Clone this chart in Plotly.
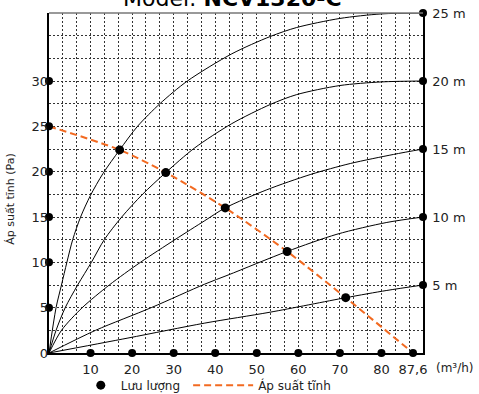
import plotly.graph_objects as go

# x = luu luong (m3/h), y = ap suat tinh (Pa)
x_ticks = [10, 20, 30, 40, 50, 60, 70, 80, 87.6]
x_tick_text = ['10', '20', '30', '40', '50', '60', '70', '80', '87,6']
y_ticks = [0, 5, 10, 15, 20, 25, 30]
head_ticks = [7.5, 15, 22.5, 30, 37.5]
head_text = ['5 m', '10 m', '15 m', '20 m', '25 m']

# system curves
c25_x = [0, 1.7, 3.0, 4.3, 5.7, 7.6, 10, 13, 17, 21.3, 26.7, 33.3, 44, 53.2, 59.6, 70, 80, 90]
c25_y = [0, 5, 7.5, 10, 12.5, 15, 17.4, 19.8, 22.4, 25, 27.5, 30, 33, 34.9, 35.9, 36.9, 37.4, 37.5]
c20_x = [0, 1.7, 3.9, 6.9, 10.2, 13.3, 17.5, 22.5, 28.1, 35, 44, 53.2, 59.6, 70, 80, 90]
c20_y = [0, 2.5, 5, 7.5, 10, 12.5, 15, 17.5, 19.9, 22.6, 25.3, 27.4, 28.5, 29.5, 29.9, 30]
c15_x = [0, 3.0, 8.0, 14.5, 22, 30.3, 37.5, 42.4, 52.4, 63, 72.5, 82.9, 90]
c15_y = [0, 2.5, 5, 7.5, 10, 12.5, 14.6, 16, 18, 19.7, 20.9, 21.9, 22.5]
c10_x = [0, 11.2, 24.6, 37.5, 43.1, 57.3, 69.3, 81.3, 90]
c10_y = [0, 2.5, 5, 7.6, 8.6, 11.2, 13.1, 14.4, 15]
c5_x = [0, 19, 37.5, 53.2, 71.4, 81.3, 90]
c5_y = [0, 1.65, 3.3, 4.5, 6.1, 6.9, 7.5]

# static pressure line and operating points
p_x = [0, 17, 28.1, 42.4, 57.3, 71.4, 87.6]
p_y = [25, 22.4, 19.9, 16, 11.2, 6.1, 0]
op_x = [17, 28.1, 42.4, 57.3, 71.4]
op_y = [22.4, 19.9, 16, 11.2, 6.1]

font = 'DejaVu Sans'
grid_dash = '2px,2px'

fig = go.Figure()

for cx, cy in [(c25_x, c25_y), (c20_x, c20_y), (c15_x, c15_y), (c10_x, c10_y), (c5_x, c5_y)]:
    fig.add_trace(go.Scatter(x=cx, y=cy, mode='lines', line=dict(color='black', width=1, shape='spline', smoothing=0.8),
                             showlegend=False, hoverinfo='skip'))

fig.add_trace(go.Scatter(x=p_x, y=p_y, mode='lines', name='Áp suất tĩnh', legend='legend2',
                         line=dict(color='#F26A21', width=2, dash='7px,4px', shape='spline', smoothing=0.8)))

fig.add_trace(go.Scatter(x=op_x, y=op_y, mode='markers', name='Lưu lượng', legend='legend',
                         marker=dict(color='black', size=9)))

# dots sitting on the axis lines (each trace also keeps its label axis alive)
fig.add_trace(go.Scatter(x=[0] * (len(y_ticks) - 1), y=y_ticks[1:], mode='markers', cliponaxis=False,
                         marker=dict(color='black', size=8), showlegend=False, hoverinfo='skip', yaxis='y2'))
fig.add_trace(go.Scatter(x=x_ticks, y=[0] * len(x_ticks), mode='markers', cliponaxis=False,
                         marker=dict(color='black', size=8), showlegend=False, hoverinfo='skip', xaxis='x2'))
fig.add_trace(go.Scatter(x=[90] * len(head_ticks), y=head_ticks, mode='markers', cliponaxis=False,
                         marker=dict(color='black', size=8), showlegend=False, hoverinfo='skip', yaxis='y3'))

fig.update_layout(
    width=479, height=394,
    margin=dict(l=49, r=56, t=13, b=41, autoexpand=False),
    paper_bgcolor='white', plot_bgcolor='white',
    font=dict(family=font, size=13, color='#222'),
    xaxis=dict(range=[0, 90], tickmode='linear', tick0=0, dtick=10 / 3, showticklabels=False, ticks='',
               showgrid=True, gridcolor='#333', gridwidth=1, griddash=grid_dash, zeroline=False,
               showline=True, linecolor='black', linewidth=1.5, automargin=False),
    xaxis2=dict(range=[0, 90], overlaying='x', side='bottom', anchor='y', tickmode='array', tickvals=x_ticks,
                ticktext=x_tick_text, showgrid=False, zeroline=False, showline=False, automargin=False,
                ticks='outside', ticklen=4, tickcolor='rgba(0,0,0,0)', tickfont=dict(size=13)),
    yaxis=dict(range=[0, 37.5], tickmode='linear', tick0=0, dtick=2.5, showticklabels=False, ticks='',
               showgrid=True, gridcolor='#333', gridwidth=1, griddash=grid_dash, zeroline=False,
               showline=True, linecolor='black', linewidth=1.5, automargin=False),
    yaxis2=dict(range=[0, 37.5], overlaying='y', side='left', anchor='x', tickmode='array', tickvals=y_ticks,
                showgrid=False, zeroline=False, showline=False, automargin=False,
                ticks='', tickfont=dict(size=13)),
    yaxis3=dict(range=[0, 37.5], overlaying='y', side='right', anchor='x', tickmode='array', tickvals=head_ticks,
                ticktext=head_text, showgrid=False, zeroline=False, showline=True, linecolor='black', linewidth=1.5,
                automargin=False, ticks='outside', ticklen=5, tickcolor='rgba(0,0,0,0)', tickfont=dict(size=13),
                ticklabeloverflow='allow'),
    legend=dict(x=0.085, y=-0.052, xanchor='left', yanchor='top', orientation='h', itemwidth=30,
                font=dict(size=12), bgcolor='rgba(0,0,0,0)'),
    legend2=dict(x=0.372, y=-0.052, xanchor='left', yanchor='top', orientation='h', itemwidth=60,
                 font=dict(size=12), bgcolor='rgba(0,0,0,0)'),
    shapes=[dict(type='line', xref='paper', yref='paper', x0=0, x1=1, y0=1, y1=1,
                 line=dict(color='#777', width=1.5))],
    annotations=[
        dict(text='Model: <b>NCV1320-C</b>', xref='paper', yref='paper', x=0.49, y=0.999,
             xanchor='center', yanchor='bottom', showarrow=False, font=dict(size=22, color='black')),
        dict(text='Áp suất tĩnh (Pa)', xref='paper', yref='paper', x=-0.103, y=0.455, textangle=-90,
             xanchor='center', yanchor='middle', showarrow=False, font=dict(size=11)),
        dict(text='(m³/h)', xref='paper', yref='paper', x=1.03, y=-0.043,
             xanchor='left', yanchor='middle', showarrow=False, font=dict(size=12)),
    ],
)

# drop the default 8px page margin so the figure sits at the window corner
fig.write_html('out.html', config={'displayModeBar': False},
               post_script="document.body.style.margin = '0';")
